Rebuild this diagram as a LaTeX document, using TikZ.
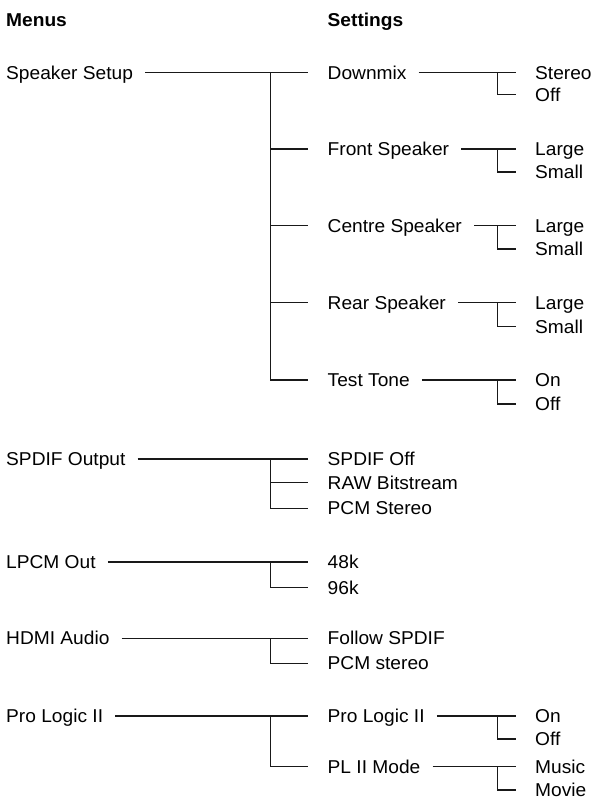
\documentclass[tikz,border=0pt]{standalone}
\usepackage{fontspec}
\setmainfont[FakeStretch=1.03]{Liberation Sans}
\begin{document}
\begin{tikzpicture}[x=1pt,y=-1pt,
  lbl/.style={anchor=west,inner sep=0pt,text height=13.3pt,text depth=0pt,font=\fontsize{18.6}{21}\selectfont,text=black},
  hdr/.style={lbl,font=\fontsize{18.6}{21}\selectfont\bfseries},
  wire/.style={line width=1.3pt,black!90}]
\useasboundingbox (0,0) rectangle (593,804);
\coordinate (A) at (270.7,0);
\coordinate (B) at (497.3,0);
% headers
\node[hdr] (hm) at (6,20) {Menus};
\node[hdr] (hs) at (327.5,20) {Settings};
% Speaker Setup
\node[lbl] (ss) at (6,72.5) {Speaker Setup};
\node[lbl] (dm) at (327.5,72.5) {Downmix};
\node[lbl] (dm1) at (535,72.5) {Stereo};
\node[lbl] (dm2) at (535,94.5) {Off};
\node[lbl] (fs) at (327.5,149) {Front Speaker};
\node[lbl] (fs1) at (535,149) {Large};
\node[lbl] (fs2) at (535,172) {Small};
\node[lbl] (cs) at (327.5,225.7) {Centre Speaker};
\node[lbl] (cs1) at (535,225.7) {Large};
\node[lbl] (cs2) at (535,249) {Small};
\node[lbl] (rs) at (327.5,302.5) {Rear Speaker};
\node[lbl] (rs1) at (535,302.5) {Large};
\node[lbl] (rs2) at (535,326.5) {Small};
\node[lbl] (tt) at (327.5,380) {Test Tone};
\node[lbl] (tt1) at (535,380) {On};
\node[lbl] (tt2) at (535,404) {Off};
% SPDIF
\node[lbl] (so) at (6,459) {SPDIF Output};
\node[lbl] (so1) at (327.5,459) {SPDIF Off};
\node[lbl] (so2) at (327.5,482.5) {RAW Bitstream};
\node[lbl] (so3) at (327.5,508.3) {PCM Stereo};
% LPCM
\node[lbl] (lp) at (6,562) {LPCM Out};
\node[lbl] (lp1) at (327.5,562) {48k};
\node[lbl] (lp2) at (327.5,587.7) {96k};
% HDMI
\node[lbl] (hd) at (6,638.3) {HDMI Audio};
\node[lbl] (hd1) at (327.5,638.3) {Follow SPDIF};
\node[lbl] (hd2) at (327.5,663.3) {PCM stereo};
% Pro Logic II
\node[lbl] (pl) at (6,716) {Pro Logic II};
\node[lbl] (pa) at (327.5,716) {Pro Logic II};
\node[lbl] (pa1) at (535,716) {On};
\node[lbl] (pa2) at (535,739) {Off};
\node[lbl] (pm) at (327.5,766.5) {PL II Mode};
\node[lbl] (pm1) at (535,766.5) {Music};
\node[lbl] (pm2) at (535,790) {Movie};
% menu connectors
\draw[wire] ([xshift=12pt]ss.east) -- ([xshift=-20pt]dm.west);
\draw[wire] (A |- dm.west) |- ([xshift=-20pt]tt.west);
\foreach \n in {fs,cs,rs} \draw[wire] (A |- \n.west) -- ([xshift=-20pt]\n.west);
\draw[wire] ([xshift=12pt]so.east) -- ([xshift=-20pt]so1.west);
\draw[wire] (A |- so1.west) |- ([xshift=-20pt]so3.west);
\draw[wire] (A |- so2.west) -- ([xshift=-20pt]so2.west);
\draw[wire] ([xshift=12pt]lp.east) -- ([xshift=-20pt]lp1.west);
\draw[wire] (A |- lp1.west) |- ([xshift=-20pt]lp2.west);
\draw[wire] ([xshift=12pt]hd.east) -- ([xshift=-20pt]hd1.west);
\draw[wire] (A |- hd1.west) |- ([xshift=-20pt]hd2.west);
\draw[wire] ([xshift=12pt]pl.east) -- ([xshift=-20pt]pa.west);
\draw[wire] (A |- pa.west) |- ([xshift=-20pt]pm.west);
% setting connectors
\foreach \p in {dm,fs,cs,rs,tt,pa,pm}{
  \draw[wire] ([xshift=12pt]\p.east) -- ([xshift=-19pt]\p1.west);
  \draw[wire] (B |- \p1.west) |- ([xshift=-19pt]\p2.west);
}
\end{tikzpicture}
\end{document}
